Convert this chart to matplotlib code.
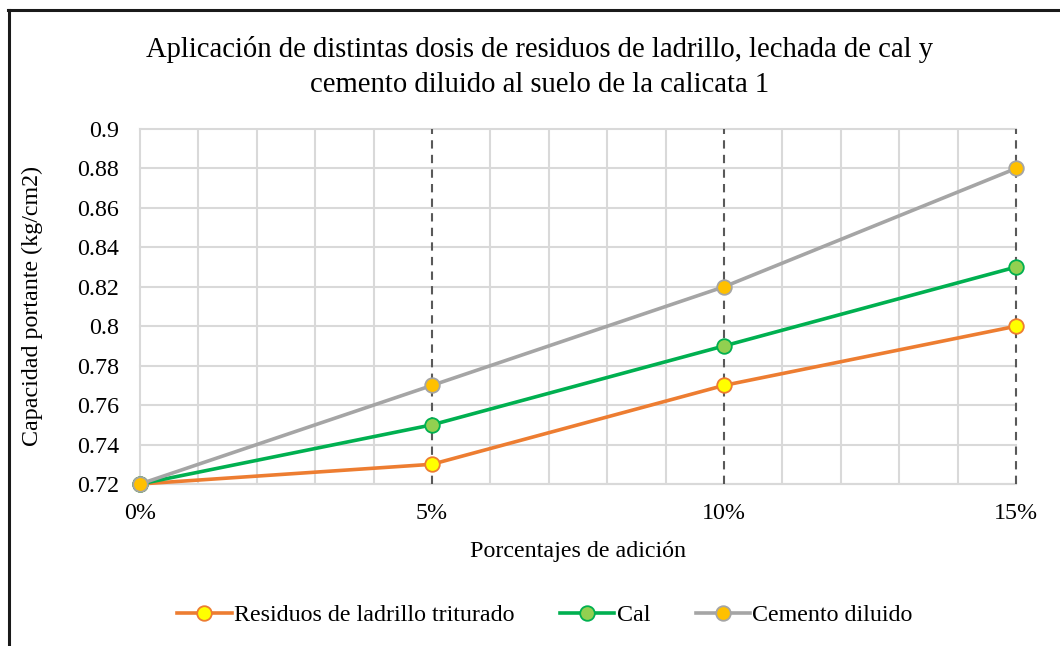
import matplotlib
matplotlib.use("Agg")
import matplotlib.pyplot as plt
from matplotlib.lines import Line2D

x_pct = [0, 5, 10, 15]
x_labels = ["0%", "5%", "10%", "15%"]
ladrillo = [0.72, 0.73, 0.77, 0.80]
cal = [0.72, 0.75, 0.79, 0.83]
cemento = [0.72, 0.77, 0.82, 0.88]
series_names = ["Residuos de ladrillo triturado", "Cal", "Cemento diluido"]
title = "Aplicación de distintas dosis de residuos de ladrillo, lechada de cal y\ncemento diluido al suelo de la calicata 1"
xlabel = "Porcentajes de adición"
ylabel = "Capacidad portante (kg/cm2)"
y_ticks = [0.72, 0.74, 0.76, 0.78, 0.80, 0.82, 0.84, 0.86, 0.88, 0.90]

plt.rcParams['font.family'] = ['Liberation Serif', 'DejaVu Serif']

W, H = 1060, 646
FS = 17.3
fig = plt.figure(figsize=(W / 100, H / 100), dpi=100)
ax = fig.add_axes([140 / W, 1 - 484 / H, (1016 - 140) / W, (484 - 129) / H])

grid_c = "#D9D9D9"
for v in range(0, 15):
    if v % 5 != 0:
        ax.axvline(v, color=grid_c, lw=1.5, zorder=1)
for yv in y_ticks:
    ax.axhline(yv, color=grid_c, lw=1.5, zorder=1, clip_on=False)
for v in x_pct[1:]:
    ax.axvline(v, color="#595959", lw=1.5, ls=(0, (4, 3)), zorder=2, clip_on=False)

styles = [
    (ladrillo, "#ED7D31", "#FFFF00", "#ED7D31"),
    (cal, "#00B050", "#92D050", "#00B050"),
    (cemento, "#A5A5A5", "#FFC000", "#A5A5A5"),
]
handles = []
for (vals, lc, mfc, mec), name in zip(styles, series_names):
    ax.plot(x_pct, vals, color=lc, lw=2.6, marker="o", ms=10.5, mfc=mfc, mec=mec,
            mew=1.3, zorder=3, clip_on=False)
    handles.append(Line2D([], [], color=lc, lw=2.6, marker="o", ms=10.5, mfc=mfc,
                          mec=mec, mew=1.3, label=name))

ax.set_xlim(0, 15)
ax.set_ylim(0.72, 0.90)
ax.set_xticks(x_pct)
ax.set_xticklabels(x_labels)
ax.set_yticks(y_ticks)
ax.set_yticklabels(["%g" % t for t in y_ticks])
ax.tick_params(length=0, labelsize=FS, colors="#000000")
ax.tick_params(axis="x", pad=14)
ax.tick_params(axis="y", pad=15)
for s in ["top", "right"]:
    ax.spines[s].set_visible(False)
for s in ["left", "bottom"]:
    ax.spines[s].set_color(grid_c)
    ax.spines[s].set_linewidth(1.5)
    ax.spines[s].set_zorder(1)

ax.set_xlabel(xlabel, fontsize=FS, labelpad=12)
fig.text(32 / W, 1 - 306 / H, ylabel, rotation=90, ha="center", va="center", fontsize=FS)
fig.text(540 / W, 1 - 67 / H, title, ha="center", va="center", fontsize=20.6, linespacing=1.45)

fig.legend(handles=handles, loc="center", bbox_to_anchor=(545 / W, 1 - 615 / H), ncol=3,
           frameon=False, fontsize=FS, handlelength=2.25, handletextpad=0.1,
           columnspacing=1.9)

fig.add_artist(Line2D([9 / W, 9 / W], [0, 1 - 9.5 / H], color="#1a1a1a", lw=2.2, transform=fig.transFigure))
fig.add_artist(Line2D([8 / W, 1], [1 - 9.5 / H, 1 - 9.5 / H], color="#1a1a1a", lw=2.2, transform=fig.transFigure))

fig.savefig("out.png", dpi=100)
